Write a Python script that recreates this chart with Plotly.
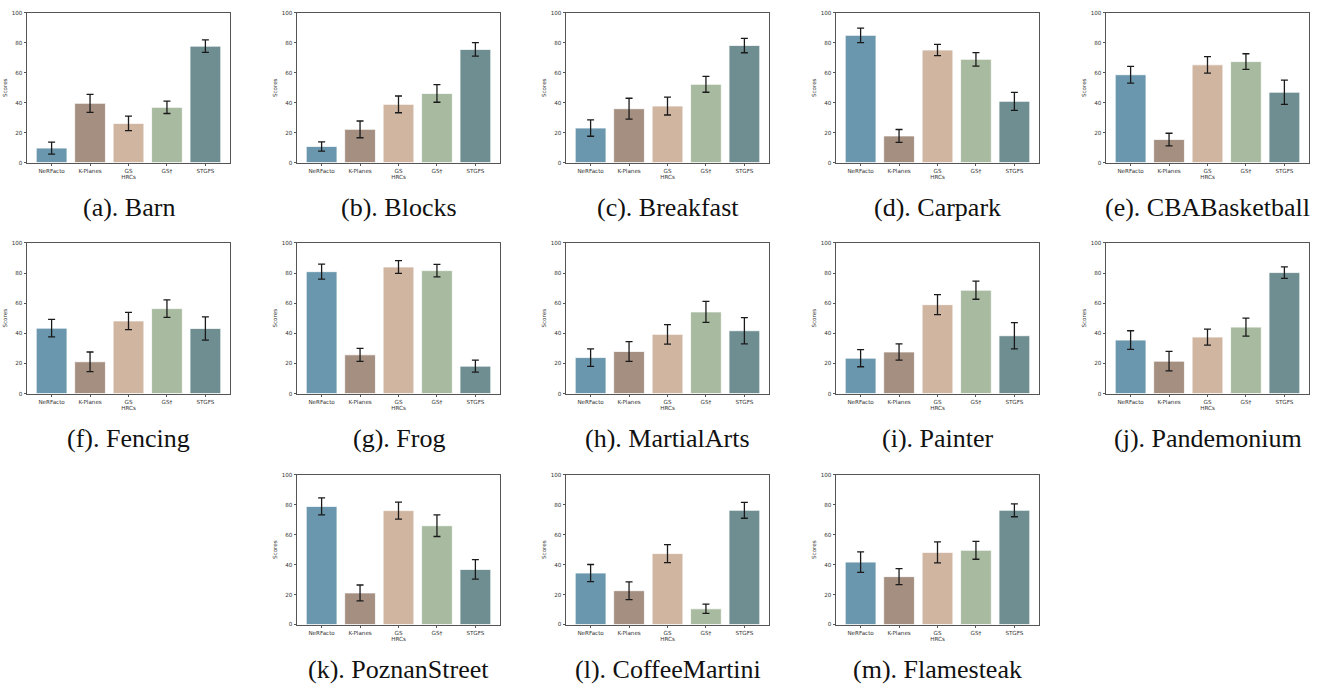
import plotly.graph_objects as go

# Methods compared (x categories) and their bar colours
methods = ["NeRFacto", "K-Planes", "GS", "GS†", "STGFS"]
colors = ["#6a97ad", "#a48f80", "#d0b5a1", "#a8bba0", "#6f8e92"]

# Scenes, one panel each, with caption letters
scenes = ["Barn", "Blocks", "Breakfast", "Carpark", "CBABasketball",
          "Fencing", "Frog", "MartialArts", "Painter", "Pandemonium",
          "PoznanStreet", "CoffeeMartini", "Flamesteak"]
letters = ["a", "b", "c", "d", "e", "f", "g", "h", "i", "j", "k", "l", "m"]

# Mean scores per method, one value per scene (same order as scenes)
nerfacto = [9.7, 10.8, 23.1, 85.0, 58.7, 43.4, 80.9, 23.9, 23.5, 35.5, 78.9, 34.4, 41.7]
kplanes  = [39.6, 22.2, 36.0, 17.8, 15.4, 21.1, 25.7, 27.9, 27.6, 21.5, 21.1, 22.6, 32.0]
gs       = [26.2, 38.9, 37.8, 75.2, 65.3, 48.2, 84.0, 39.3, 59.0, 37.5, 76.1, 47.4, 48.2]
gs_dag   = [36.9, 46.2, 52.3, 69.0, 67.5, 56.4, 81.6, 54.2, 68.6, 44.1, 66.0, 10.5, 49.6]
stgfs    = [77.8, 75.6, 78.2, 40.9, 47.0, 43.2, 18.2, 41.7, 38.4, 80.3, 36.8, 76.3, 76.3]

# Confidence half-widths per method, one value per scene
nerfacto_err = [4.0, 3.1, 5.5, 4.8, 5.6, 5.8, 5.0, 5.8, 5.7, 6.2, 5.7, 5.7, 6.9]
kplanes_err  = [6.0, 5.6, 7.0, 4.3, 4.2, 6.5, 4.3, 6.6, 5.4, 6.5, 5.3, 5.9, 5.4]
gs_err       = [4.8, 5.6, 6.0, 3.8, 5.5, 5.7, 4.2, 6.5, 6.6, 5.3, 5.7, 6.0, 7.0]
gs_dag_err   = [4.1, 5.9, 5.3, 4.5, 5.2, 5.8, 4.2, 7.0, 6.0, 6.0, 7.2, 3.1, 6.0]
stgfs_err    = [4.2, 4.5, 4.8, 6.0, 8.1, 7.7, 4.0, 8.7, 8.7, 3.8, 6.5, 5.3, 4.3]

y_ticks = [0, 20, 40, 60, 80, 100]

score_table = list(zip(nerfacto, kplanes, gs, gs_dag, stgfs))
error_table = list(zip(nerfacto_err, kplanes_err, gs_err, gs_dag_err, stgfs_err))

W, H = 1323, 688
col_left = [27, 297, 566, 836, 1106]
panel_w = 203
rows = [(10, 161), (242, 394), (476, 627)]
caption_y = [206, 439, 672]
# (row, column) slot for every panel
slots = [(0, 0), (0, 1), (0, 2), (0, 3), (0, 4),
         (1, 0), (1, 1), (1, 2), (1, 3), (1, 4),
         (2, 1), (2, 2), (2, 3)]

tick_font = dict(family="DejaVu Sans", size=5.6, color="#333333")
frame = "#555555"

fig = go.Figure()
layout = dict(width=W, height=H, margin=dict(l=0, r=0, t=0, b=0),
              paper_bgcolor="white", plot_bgcolor="white",
              showlegend=False, annotations=[])

for i, scene in enumerate(scenes):
    r, c = slots[i]
    top, bottom = rows[r]
    left = col_left[c]
    sfx = "" if i == 0 else str(i + 1)
    fig.add_trace(go.Bar(
        x=methods, y=list(score_table[i]), width=0.8,
        marker=dict(color=colors, line=dict(color="rgba(255,255,255,0.75)", width=1)),
        error_y=dict(type="data", array=list(error_table[i]), visible=True,
                     color="#1a1a1a", thickness=1.3, width=3.5),
        xaxis="x" + sfx, yaxis="y" + sfx, hoverinfo="x+y",
    ))
    layout["xaxis" + sfx] = dict(
        domain=[left / W, (left + panel_w) / W], anchor="y" + sfx,
        type="category", range=[-0.64, 4.64],
        showline=True, mirror=True, linecolor=frame, linewidth=1,
        ticks="outside", ticklen=2.5, tickcolor=frame, tickfont=tick_font,
        showgrid=False, zeroline=False, fixedrange=True,
        title=dict(text="HRCs", font=tick_font, standoff=1),
    )
    layout["yaxis" + sfx] = dict(
        domain=[1 - bottom / H, 1 - top / H], anchor="x" + sfx,
        range=[0, 100], tickvals=y_ticks,
        showline=True, mirror=True, linecolor=frame, linewidth=1,
        ticks="outside", ticklen=2.5, tickcolor=frame, tickfont=tick_font,
        showgrid=False, zeroline=False, fixedrange=True,
        title=dict(text="Scores", font=tick_font, standoff=3),
    )
    layout["annotations"].append(dict(
        text=f"({letters[i]}). {scene}", xref="paper", yref="paper",
        x=(left + panel_w / 2) / W, y=1 - caption_y[r] / H,
        xanchor="center", yanchor="middle", showarrow=False,
        font=dict(family="Liberation Serif", size=26, color="#111111"),
    ))

fig.update_layout(**layout)
fig.write_html("out.html")
